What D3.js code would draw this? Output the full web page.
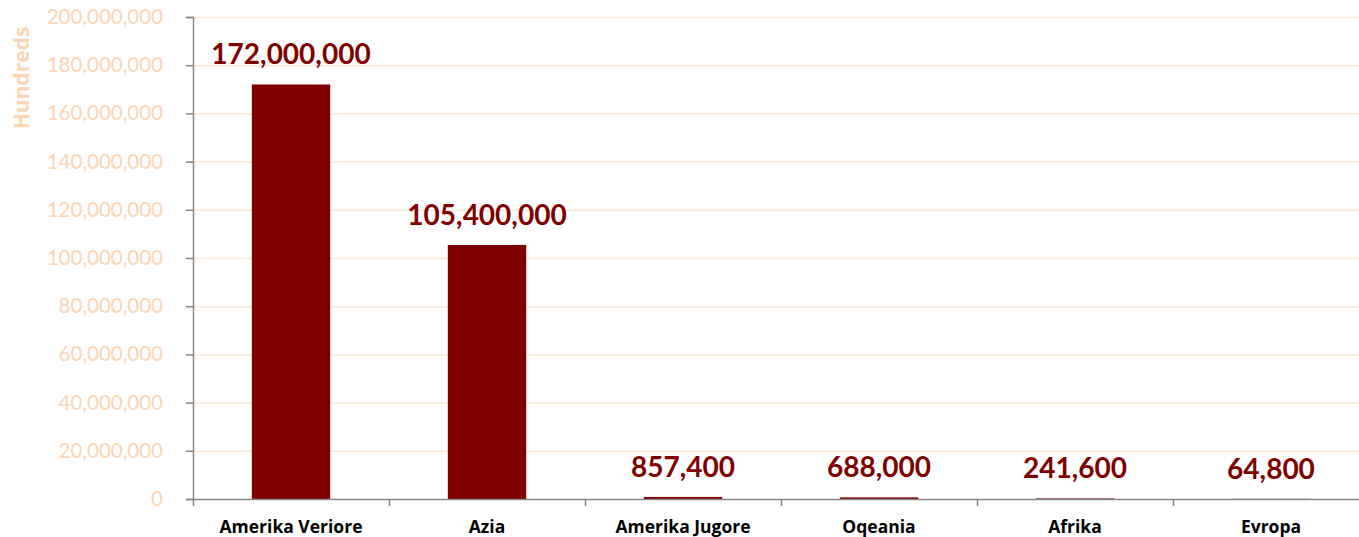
<!DOCTYPE html>
<html>
<head>
<meta charset="utf-8">
<script src="https://cdn.jsdelivr.net/npm/d3@7"></script>
<style>
  body { margin: 0; background: #fff; }
  svg { display: block; }
</style>
</head>
<body>
<script>
const categories = ["Amerika Veriore", "Azia", "Amerika Jugore", "Oqeania", "Afrika", "Evropa"];
const values = [172000000, 105400000, 857400, 688000, 241600, 64800];
const yTicks = [0, 20000000, 40000000, 60000000, 80000000, 100000000, 120000000, 140000000, 160000000, 180000000, 200000000];
const axisTitle = "Hundreds";

const width = 1359, height = 537;
const plotLeft = 193, plotTop = 17, plotBottom = 499, plotRight = 1369;

const svg = d3.select("body").append("svg")
    .attr("width", width)
    .attr("height", height);

const x = d3.scaleBand()
    .domain(categories)
    .range([plotLeft, plotRight])
    .paddingInner(0.6)
    .paddingOuter(0.3);

const y = d3.scaleLinear()
    .domain([0, 200000000])
    .range([plotBottom, plotTop]);

const fmt = d3.format(",");

// gridlines
svg.append("g")
    .selectAll("line")
    .data(yTicks.slice(1))
    .enter()
    .append("line")
    .attr("x1", plotLeft)
    .attr("x2", plotRight)
    .attr("y1", d => y(d) + 0.5)
    .attr("y2", d => y(d) + 0.5)
    .attr("stroke", "#fde9d9")
    .attr("stroke-width", 1.5);

// bars
svg.append("g")
    .selectAll("rect")
    .data(values)
    .enter()
    .append("rect")
    .attr("x", (d, i) => x(categories[i]))
    .attr("width", x.bandwidth())
    .attr("y", d => y(d))
    .attr("height", d => plotBottom - y(d))
    .attr("fill", "#800000");

// data labels
svg.append("g")
    .selectAll("text")
    .data(values)
    .enter()
    .append("text")
    .attr("x", (d, i) => x(categories[i]) + x.bandwidth() / 2)
    .attr("y", d => y(d) - 20)
    .attr("text-anchor", "middle")
    .attr("font-family", "Lato, 'Open Sans', sans-serif")
    .attr("font-weight", "bold")
    .attr("font-size", 28)
    .attr("fill", "#800000")
    .text(d => fmt(d));

// y axis
const yAxis = d3.axisLeft(y)
    .tickValues(yTicks)
    .tickFormat(fmt)
    .tickSize(7)
    .tickPadding(23);

const gy = svg.append("g")
    .attr("transform", "translate(" + plotLeft + ",0)")
    .call(yAxis);
gy.select(".domain").attr("stroke", "#868686").attr("stroke-width", 1.5);
gy.selectAll(".tick line").attr("stroke", "#868686").attr("stroke-width", 1.5);
gy.selectAll(".tick text")
    .attr("font-family", "Lato, 'Open Sans', sans-serif")
    .attr("font-size", 20.5)
    .attr("fill", "#fcd5b4");

// x axis
const xAxis = d3.axisBottom(x).tickSize(0).tickPadding(22);
const gx = svg.append("g")
    .attr("transform", "translate(0," + plotBottom + ")")
    .call(xAxis);
gx.select(".domain").attr("stroke", "#868686").attr("stroke-width", 1.5);
gx.selectAll(".tick text")
    .attr("font-family", "'Open Sans', sans-serif")
    .attr("font-weight", "bold")
    .attr("font-size", 17.5)
    .attr("fill", "#000");

// category boundary ticks
const step = x.step();
gx.append("g")
    .selectAll("line")
    .data(categories)
    .enter()
    .append("line")
    .attr("x1", (d, i) => plotLeft + step * i + 0.5)
    .attr("x2", (d, i) => plotLeft + step * i + 0.5)
    .attr("y1", 0)
    .attr("y2", 7)
    .attr("stroke", "#868686")
    .attr("stroke-width", 1.5);

// axis title
svg.append("text")
    .attr("transform", "translate(29,78) rotate(-90)")
    .attr("text-anchor", "middle")
    .attr("font-family", "'Open Sans', sans-serif")
    .attr("font-weight", "bold")
    .attr("font-size", 21)
    .attr("fill", "#fcd5b4")
    .text(axisTitle);
</script>
</body>
</html>
